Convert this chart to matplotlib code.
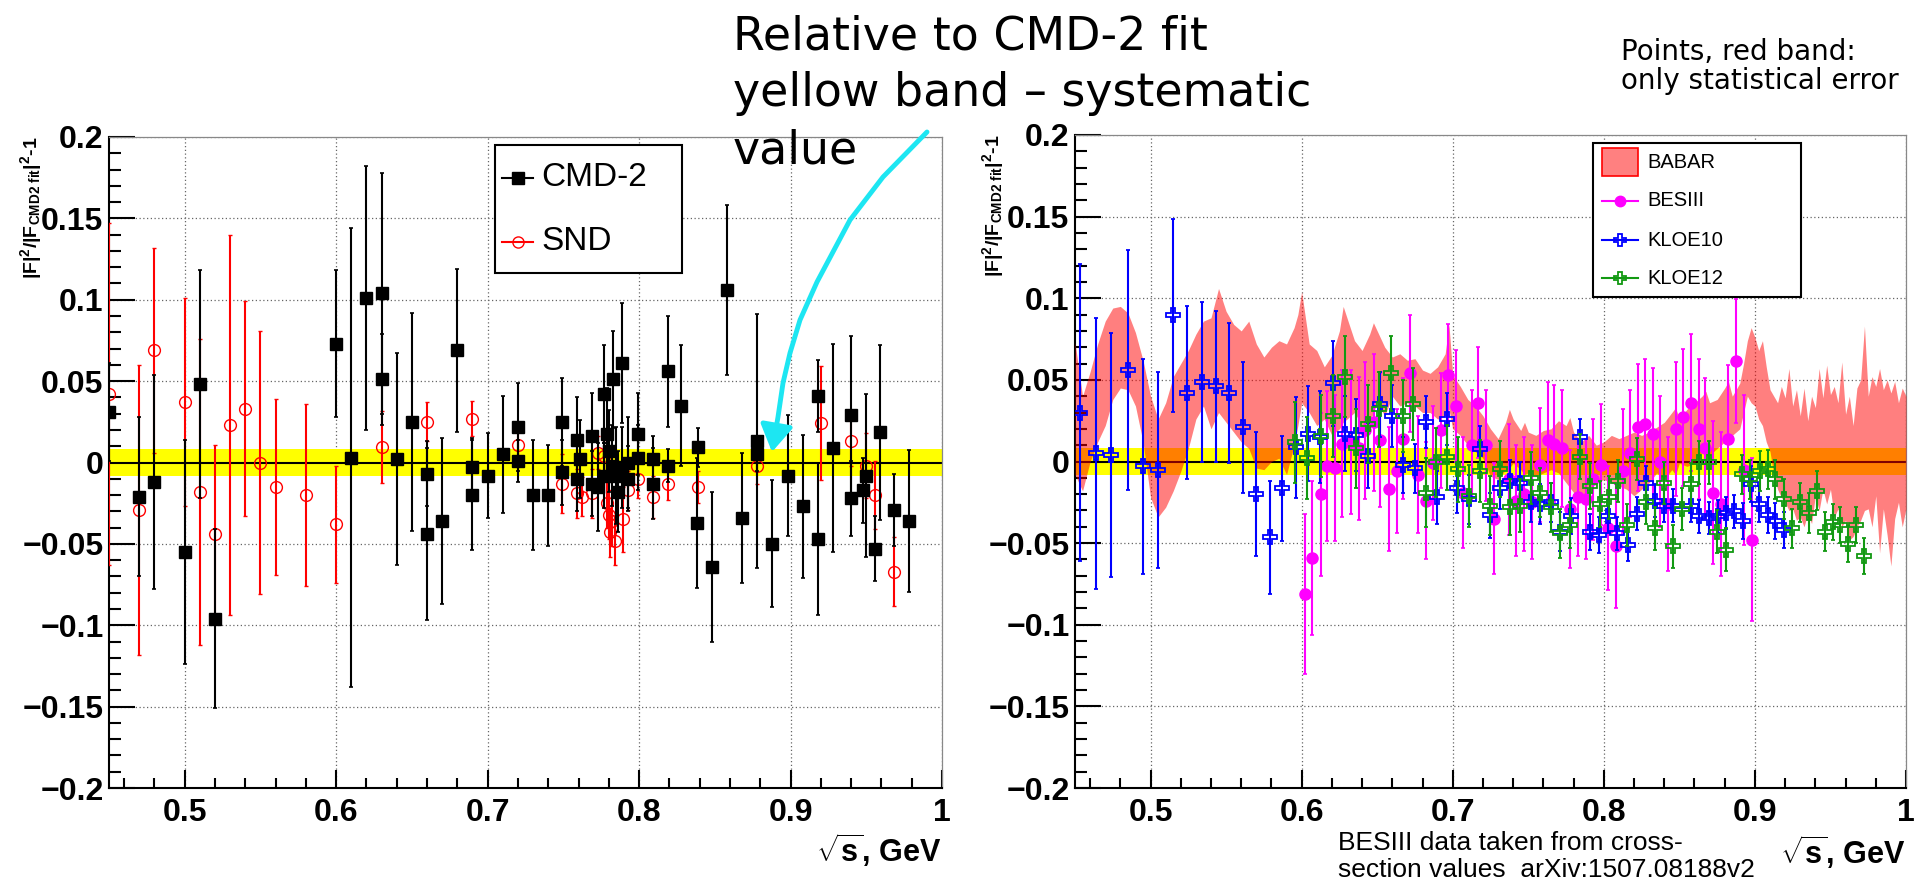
import matplotlib
matplotlib.use('Agg')
import matplotlib.pyplot as plt
from matplotlib.lines import Line2D
from matplotlib.patches import Rectangle, FancyArrowPatch
from matplotlib.path import Path
from matplotlib.ticker import MultipleLocator

plt.rcParams['font.family'] = ['Liberation Sans', 'DejaVu Sans']
plt.rcParams['mathtext.fontset'] = 'custom'
plt.rcParams['mathtext.rm'] = 'Liberation Sans'
plt.rcParams['mathtext.bf'] = 'Liberation Sans:bold'
plt.rcParams['mathtext.it'] = 'Liberation Sans:italic'

# ---------------- data: left panel ----------------
cmd2_x = [0.450, 0.470, 0.480, 0.500, 0.510, 0.520, 0.600, 0.610, 0.620, 0.630, 0.630,
          0.640, 0.650, 0.660, 0.660, 0.670, 0.680, 0.690, 0.690, 0.700, 0.710, 0.720,
          0.720, 0.730, 0.740, 0.749, 0.749, 0.759, 0.759, 0.761, 0.769, 0.769, 0.773,
          0.777, 0.777, 0.7785, 0.780, 0.782, 0.783, 0.785, 0.786, 0.789, 0.789, 0.793,
          0.793, 0.799, 0.799, 0.809, 0.809, 0.819, 0.819, 0.828, 0.839, 0.838, 0.848,
          0.858, 0.868, 0.878, 0.878, 0.888, 0.898, 0.908, 0.918, 0.918, 0.928, 0.940,
          0.940, 0.948, 0.950, 0.956, 0.959, 0.968, 0.978]
cmd2_y = [0.031, -0.021, -0.012, -0.055, 0.048, -0.096, 0.073, 0.003, 0.101, 0.104, 0.051,
          0.002, 0.025, -0.007, -0.044, -0.036, 0.069, -0.003, -0.020, -0.008, 0.005, 0.022,
          0.001, -0.020, -0.020, 0.025, -0.006, 0.014, -0.010, 0.002, 0.016, -0.013, -0.015,
          0.042, -0.008, 0.0175, 0.007, -0.002, 0.051, -0.008, -0.018, 0.061, -0.003, 0.000,
          -0.010, 0.0175, 0.003, 0.002, -0.013, 0.056, -0.002, 0.035, 0.0095, -0.037, -0.064,
          0.106, -0.034, 0.013, 0.005, -0.050, -0.008, -0.027, 0.041, -0.047, 0.009, 0.029,
          -0.022, -0.017, -0.008, -0.053, 0.0185, -0.029, -0.036]
cmd2_err = [0.030, 0.049, 0.066, 0.069, 0.070, 0.055, 0.045, 0.141, 0.081, 0.074, 0.028,
            0.065, 0.067, 0.020, 0.053, 0.051, 0.050, 0.018, 0.034, 0.026, 0.036, 0.027,
            0.013, 0.034, 0.031, 0.027, 0.020, 0.026, 0.020, 0.024, 0.027, 0.020, 0.027,
            0.030, 0.020, 0.028, 0.025, 0.025, 0.030, 0.030, 0.025, 0.037, 0.025, 0.028,
            0.020, 0.025, 0.020, 0.014, 0.022, 0.034, 0.010, 0.037, 0.012, 0.040, 0.046,
            0.052, 0.040, 0.078, 0.010, 0.039, 0.037, 0.044, 0.022, 0.047, 0.064, 0.049,
            0.023, 0.020, 0.050, 0.020, 0.054, 0.022, 0.0435]

snd_x = [0.450, 0.470, 0.480, 0.500, 0.510, 0.520, 0.530, 0.540, 0.550, 0.560, 0.580,
         0.600, 0.630, 0.660, 0.690, 0.720, 0.749, 0.759, 0.7625, 0.769, 0.773, 0.777,
         0.7785, 0.780, 0.781, 0.782, 0.784, 0.7895, 0.793, 0.799, 0.809, 0.819, 0.839,
         0.878, 0.920, 0.940, 0.950, 0.956, 0.968]
snd_y = [0.042, -0.029, 0.069, 0.037, -0.018, -0.044, 0.023, 0.033, 0.000, -0.015, -0.020,
         -0.038, 0.0095, 0.025, 0.027, 0.011, -0.013, -0.019, -0.021, -0.019, 0.006, 0.004,
         -0.025, -0.032, -0.043, -0.036, -0.048, -0.035, -0.017, -0.010, -0.021, -0.013, -0.015,
         -0.002, 0.024, 0.013, -0.002, -0.020, -0.067]
snd_err = [0.105, 0.089, 0.063, 0.064, 0.094, 0.055, 0.117, 0.066, 0.081, 0.054, 0.056,
           0.036, 0.022, 0.012, 0.011, 0.012, 0.018, 0.015, 0.012, 0.015, 0.010, 0.010,
           0.015, 0.015, 0.015, 0.015, 0.015, 0.020, 0.012, 0.012, 0.013, 0.010, 0.010,
           0.011, 0.035, 0.015, 0.020, 0.021, 0.021]

sys_halfwidth = 0.008   # yellow band: systematic error of the CMD-2 fit

# ---------------- data: right panel ----------------
babar_x = [0.450, 0.455, 0.460, 0.465, 0.470, 0.475, 0.480, 0.485, 0.490, 0.495,
           0.500, 0.505, 0.510, 0.515, 0.520, 0.525, 0.530, 0.535, 0.540, 0.545,
           0.550, 0.555, 0.560, 0.565, 0.570, 0.575, 0.580, 0.585, 0.590, 0.595,
           0.5975, 0.600, 0.605, 0.610, 0.615, 0.620, 0.625, 0.6275, 0.630, 0.635,
           0.640, 0.645, 0.6475, 0.650, 0.655, 0.660, 0.665, 0.670, 0.675, 0.680,
           0.685, 0.690, 0.695, 0.6975, 0.700, 0.705, 0.710, 0.715,
           0.720, 0.725, 0.730, 0.735, 0.7375, 0.740, 0.745, 0.7475, 0.750, 0.755,
           0.760, 0.765, 0.770, 0.775, 0.7775, 0.780, 0.785, 0.790, 0.795, 0.800,
           0.805, 0.810, 0.815, 0.820, 0.825, 0.830, 0.835, 0.840, 0.845, 0.8475,
           0.850, 0.855, 0.860, 0.865, 0.8675, 0.870, 0.875, 0.880, 0.8825, 0.885,
           0.890, 0.8925, 0.895, 0.8975, 0.900, 0.9025, 0.905, 0.9075, 0.910, 0.9125,
           0.915, 0.9175, 0.920, 0.9225, 0.925, 0.9275, 0.930, 0.9325, 0.935, 0.9375,
           0.940, 0.9425, 0.945, 0.9475, 0.950, 0.9525, 0.955, 0.9575, 0.960, 0.9625,
           0.965, 0.9675, 0.970, 0.9725, 0.975, 0.9775, 0.980, 0.9825, 0.985, 0.9875,
           0.990, 0.9925, 0.995, 0.9975, 1.000]
babar_hi = [0.073, 0.040, 0.055, 0.072, 0.086, 0.094, 0.095, 0.091, 0.079, 0.062,
            0.040, 0.026, 0.036, 0.052, 0.060, 0.068, 0.078, 0.086, 0.088, 0.106,
            0.092, 0.084, 0.080, 0.086, 0.072, 0.064, 0.070, 0.074, 0.072, 0.082,
            0.090, 0.104, 0.072, 0.068, 0.058, 0.065, 0.080, 0.095, 0.088, 0.074,
            0.068, 0.078, 0.085, 0.080, 0.070, 0.064, 0.066, 0.062, 0.063, 0.056,
            0.054, 0.058, 0.066, 0.084, 0.053, 0.046, 0.038, 0.034,
            0.028, 0.020, 0.014, 0.024, 0.032, 0.026, 0.019, 0.024, 0.018, 0.016,
            0.019, 0.020, 0.025, 0.022, 0.027, 0.018, 0.012, 0.016, 0.010, 0.012,
            0.016, 0.014, 0.016, 0.018, 0.016, 0.018, 0.021, 0.024, 0.030, 0.033,
            0.026, 0.032, 0.036, 0.040, 0.043, 0.036, 0.038, 0.045, 0.049, 0.040,
            0.048, 0.060, 0.074, 0.082, 0.076, 0.068, 0.074, 0.058, 0.044, 0.040,
            0.036, 0.046, 0.039, 0.057, 0.034, 0.044, 0.028, 0.045, 0.025, 0.040,
            0.033, 0.057, 0.039, 0.059, 0.041, 0.046, 0.036, 0.061, 0.029, 0.040,
            0.022, 0.045, 0.050, 0.083, 0.040, 0.052, 0.046, 0.057, 0.044, 0.050,
            0.042, 0.049, 0.036, 0.045, 0.040]
babar_lo = [-0.008, -0.018, 0.000, 0.012, 0.022, 0.038, 0.045, 0.044, 0.034, 0.012,
            -0.022, -0.034, -0.028, -0.018, -0.006, 0.008, 0.026, 0.034, 0.020, 0.030,
            0.024, 0.018, 0.012, 0.008, -0.004, -0.005, 0.000, 0.002, -0.008, 0.010,
            0.022, 0.036, 0.030, 0.022, 0.026, 0.016, 0.020, 0.024, 0.026, 0.030,
            0.022, 0.024, 0.030, 0.036, 0.028, 0.040, 0.034, 0.036, 0.034, 0.030,
            0.030, 0.026, 0.028, 0.032, 0.020, 0.016, 0.010, 0.006,
            0.002, -0.009, -0.011, -0.005, -0.004, -0.001, -0.005, -0.008, -0.007, -0.009,
            -0.007, -0.005, -0.007, -0.013, -0.016, -0.019, -0.023, -0.017, -0.013, -0.011,
            -0.013, -0.015, -0.017, -0.021, -0.017, -0.013, -0.007, -0.011, -0.005, -0.008,
            -0.001, -0.003, -0.001, 0.006, 0.004, 0.004, 0.008, 0.012, 0.010, 0.016,
            0.020, 0.030, 0.040, 0.036, 0.034, 0.026, 0.022, 0.012, 0.006, -0.008,
            -0.017, -0.022, -0.025, -0.030, -0.029, -0.036, -0.034, -0.040, -0.032, -0.038,
            -0.021, -0.030, -0.017, -0.026, -0.017, -0.034, -0.029, -0.040, -0.036, -0.048,
            -0.046, -0.040, -0.036, -0.030, -0.029, -0.040, -0.021, -0.056, -0.029, -0.045,
            -0.064, -0.035, -0.025, -0.040, -0.029]

bes_x = [0.602, 0.607, 0.613, 0.617, 0.622, 0.627, 0.633, 0.638, 0.642, 0.648, 0.652,
         0.6575, 0.663, 0.667, 0.672, 0.677, 0.6825, 0.687, 0.692, 0.697, 0.702, 0.707,
         0.7125, 0.717, 0.722, 0.7275, 0.737, 0.742, 0.7475, 0.7525, 0.7575, 0.763, 0.767,
         0.772, 0.7775, 0.783, 0.788, 0.793, 0.798, 0.803, 0.808, 0.813, 0.8175, 0.8225,
         0.8275, 0.8325, 0.8375, 0.8425, 0.848, 0.8525, 0.858, 0.863, 0.867, 0.8725,
         0.8775, 0.882, 0.8875, 0.8925, 0.898]
bes_y = [-0.081, -0.059, -0.020, -0.003, -0.004, 0.011, 0.012, 0.008, 0.019, 0.024, 0.013,
         -0.017, -0.006, 0.014, 0.054, -0.008, -0.024, -0.001, 0.019, 0.053, 0.034, -0.019,
         0.010, 0.036, 0.010, -0.035, -0.011, -0.024, -0.020, -0.025, -0.002, 0.013, 0.011,
         0.008, -0.029, -0.022, -0.023, -0.011, -0.002, -0.041, -0.052, -0.006, 0.005, 0.021,
         0.023, 0.017, 0.000, -0.026, 0.020, 0.027, 0.036, 0.020, 0.008, -0.019,
         -0.026, 0.014, 0.0615, -0.005, -0.048]
bes_err = [0.049, 0.047, 0.050, 0.046, 0.045, 0.045, 0.044, 0.044, 0.042, 0.042, 0.041,
           0.038, 0.038, 0.037, 0.036, 0.036, 0.036, 0.035, 0.035, 0.031, 0.034, 0.034,
           0.034, 0.034, 0.034, 0.034, 0.034, 0.034, 0.035, 0.035, 0.035, 0.036, 0.036,
           0.036, 0.036, 0.036, 0.037, 0.037, 0.037, 0.038, 0.038, 0.038, 0.039, 0.039,
           0.040, 0.040, 0.040, 0.041, 0.041, 0.042, 0.042, 0.043, 0.043, 0.044,
           0.044, 0.045, 0.038, 0.046, 0.050]

k10_x = [0.453, 0.464, 0.474, 0.485, 0.495, 0.505, 0.515, 0.524, 0.534, 0.543, 0.552,
         0.561, 0.570, 0.579, 0.587, 0.596, 0.604, 0.612, 0.621, 0.629, 0.636, 0.644,
         0.652, 0.660, 0.667, 0.675, 0.6825, 0.6895, 0.696, 0.703, 0.7105, 0.718, 0.7245,
         0.7315, 0.738, 0.7447, 0.752, 0.758, 0.765, 0.771, 0.778, 0.7844, 0.791, 0.797,
         0.803, 0.809, 0.816, 0.822, 0.828, 0.8336, 0.8396, 0.8458, 0.8577, 0.8632, 0.8694,
         0.8754, 0.881, 0.8864, 0.892, 0.8975, 0.903, 0.9085, 0.9136, 0.919]
k10_y = [0.030, 0.005, 0.004, 0.056, -0.003, -0.005, 0.0895, 0.042, 0.049, 0.046, 0.042,
         0.021, -0.020, -0.0465, -0.0165, 0.0086, 0.017, 0.015, 0.048, 0.017, 0.016, 0.0035,
         0.035, 0.028, -0.002, -0.004, 0.024, -0.022, 0.026, -0.0165, -0.023, 0.0076, -0.033,
         -0.016, -0.012, -0.013, -0.025, -0.026, -0.025, -0.043, -0.0335, 0.0148, -0.043, -0.045,
         -0.0335, -0.044, -0.051, -0.032, -0.013, -0.024, -0.027, -0.027, -0.027, -0.0335, -0.0346,
         -0.0335, -0.0315, -0.0305, -0.0366, -0.014, -0.026, -0.0325, -0.0366, -0.042]
k10_err = [0.091, 0.083, 0.075, 0.0735, 0.066, 0.060, 0.059, 0.053, 0.049, 0.046, 0.043,
           0.040, 0.038, 0.0345, 0.032, 0.031, 0.029, 0.028, 0.026, 0.023, 0.022, 0.020,
           0.020, 0.019, 0.017, 0.015, 0.016, 0.016, 0.016, 0.015, 0.015, 0.014, 0.014,
           0.013, 0.013, 0.013, 0.012, 0.012, 0.012, 0.012, 0.011, 0.011, 0.011, 0.011,
           0.010, 0.010, 0.010, 0.010, 0.010, 0.010, 0.010, 0.010, 0.010, 0.010, 0.010,
           0.010, 0.010, 0.010, 0.011, 0.011, 0.011, 0.011, 0.011, 0.011]

k12_x = [0.5957, 0.6038, 0.6127, 0.6206, 0.6284, 0.6361, 0.6442, 0.6515, 0.6593, 0.667,
         0.674, 0.6823, 0.6889, 0.6961, 0.7034, 0.7109, 0.7178, 0.7248, 0.7315, 0.7381,
         0.7447, 0.7518, 0.758, 0.765, 0.7712, 0.7778, 0.7844, 0.7911, 0.7972, 0.8032,
         0.8092, 0.8155, 0.822, 0.8279, 0.8339, 0.8396, 0.8458, 0.8517, 0.8577, 0.8632,
         0.8694, 0.875, 0.8808, 0.8914, 0.897, 0.9032, 0.9085, 0.9136, 0.9191, 0.9246,
         0.9301, 0.9356, 0.9412, 0.9462, 0.9515, 0.9566, 0.9617, 0.967, 0.9721]
k12_y = [0.0117, 0.002, 0.0158, 0.028, 0.052, 0.008, 0.023, 0.032, 0.054, 0.028,
         0.035, -0.019, -0.0006, 0.0025, -0.0047, -0.021, -0.0058, -0.027, -0.0047, -0.028,
         -0.027, -0.010, -0.019, -0.028, -0.044, -0.039, 0.003, -0.015, -0.026, -0.022,
         -0.012, -0.039, 0.0014, -0.025, -0.041, -0.013, -0.052, -0.029, -0.014, -0.0006,
         -0.0006, -0.043, -0.054, -0.0078, -0.011, -0.0058, -0.0047, -0.011, -0.023, -0.041,
         -0.025, -0.0315, -0.018, -0.043, -0.037, -0.039, -0.0506, -0.039, -0.058]
k12_err = [0.025, 0.025, 0.025, 0.025, 0.025, 0.024, 0.024, 0.023, 0.023, 0.022,
           0.022, 0.021, 0.021, 0.020, 0.020, 0.019, 0.019, 0.018, 0.017, 0.017,
           0.016, 0.016, 0.015, 0.015, 0.015, 0.014, 0.014, 0.014, 0.014, 0.013,
           0.013, 0.013, 0.013, 0.013, 0.013, 0.013, 0.013, 0.013, 0.013, 0.013,
           0.013, 0.013, 0.013, 0.012, 0.012, 0.012, 0.012, 0.012, 0.012, 0.012,
           0.012, 0.012, 0.012, 0.012, 0.011, 0.011, 0.011, 0.011, 0.011]

xtick_vals = [0.5, 0.6, 0.7, 0.8, 0.9, 1.0]
xtick_labels = ['0.5', '0.6', '0.7', '0.8', '0.9', '1']
ytick_vals = [-0.2, -0.15, -0.1, -0.05, 0.0, 0.05, 0.1, 0.15, 0.2]
ytick_labels = ['\u22120.2', '\u22120.15', '\u22120.1', '\u22120.05', '0', '0.05', '0.1', '0.15', '0.2']

# ---------------- figure ----------------
W, H = 1930, 883
fig = plt.figure(figsize=(W / 100, H / 100), dpi=100)


def fx(px):
    return px / W


def fy(py):
    return 1 - py / H


axL = fig.add_axes([fx(109), fy(788), fx(942) - fx(109), fy(137) - fy(788)])
axR = fig.add_axes([fx(1075), fy(788), fx(1906) - fx(1075), fy(135) - fy(788)])


def style(ax):
    ax.set_xlim(0.45, 1.0)
    ax.set_ylim(-0.2, 0.2)
    ax.set_xticks(xtick_vals)
    ax.set_xticklabels(xtick_labels)
    ax.set_yticks(ytick_vals)
    ax.set_yticklabels(ytick_labels)
    ax.xaxis.set_minor_locator(MultipleLocator(0.02))
    ax.yaxis.set_minor_locator(MultipleLocator(0.01))
    ax.tick_params(which='both', direction='in', top=False, right=False, width=1.5, color='k')
    ax.tick_params(axis='y', which='major', length=18.5, pad=4, labelsize=23)
    ax.tick_params(axis='y', which='minor', length=8.5)
    ax.tick_params(axis='x', which='major', length=13, pad=7, labelsize=23)
    ax.tick_params(axis='x', which='minor', length=7)
    for lab in ax.get_xticklabels() + ax.get_yticklabels():
        lab.set_fontweight('bold')
    ax.set_axisbelow(True)
    ax.grid(True, which='major', linestyle=(0, (1, 2)), color='#666666', linewidth=0.9)
    for s in ['left', 'bottom']:
        ax.spines[s].set_linewidth(1.5)
        ax.spines[s].set_color('k')
    for s in ['top', 'right']:
        ax.spines[s].set_linewidth(0.9)
        ax.spines[s].set_color('#888888')
    ax.axhspan(-sys_halfwidth, sys_halfwidth, color='#ffff00', lw=0, zorder=1)
    ax.axhline(0.0, color='k', lw=1.5, zorder=2)


style(axL)
style(axR)

eb = dict(linestyle='none', capsize=1.5, capthick=1.2, elinewidth=1.5)

# left panel points
axL.errorbar(snd_x, snd_y, yerr=snd_err, fmt='o', color='red', mfc='none', mec='red',
             ms=8.5, mew=1.0, zorder=4, **eb)
axL.errorbar(cmd2_x, cmd2_y, yerr=cmd2_err, fmt='s', color='black', ms=8, zorder=5, **eb)

# right panel
axR.fill_between(babar_x, babar_lo, babar_hi, color='#ff0000', alpha=0.5, lw=0, zorder=3)
axR.errorbar(bes_x, bes_y, yerr=bes_err, fmt='o', color='#ff00ff', ms=8, zorder=4, **eb)
axR.errorbar(k10_x, k10_y, yerr=k10_err, fmt='P', color='#0000ff', mfc='none', mec='#0000ff',
             ms=10, mew=1.3, zorder=5, **eb)
axR.errorbar(k12_x, k12_y, yerr=k12_err, fmt='P', color='#129912', mfc='none', mec='#129912',
             ms=10, mew=1.3, zorder=6, **eb)

# axis titles
ylab = r'$\mathbf{|F|^{2}/|F_{CMD2\ fit}|^{2}}$-1'
fig.text(fx(31), fy(137), ylab, rotation=90, ha='center', va='top', fontsize=14, fontweight='bold')
fig.text(fx(993), fy(135), ylab, rotation=90, ha='center', va='top', fontsize=14, fontweight='bold')
xlab = r'$\sqrt{\mathbf{s}}$, GeV'
fig.text(fx(941), fy(850), xlab, ha='right', va='center', fontsize=22, fontweight='bold')
fig.text(fx(1905), fy(852), xlab, ha='right', va='center', fontsize=22, fontweight='bold')

# ---------------- legends (drawn on the figure) ----------------
def frame(x0, y0, x1, y1):
    fig.add_artist(Rectangle((fx(x0), fy(y1)), fx(x1) - fx(x0), fy(y0) - fy(y1),
                             transform=fig.transFigure, facecolor='white', edgecolor='k',
                             lw=1.5, zorder=10))


def line_entry(x0, x1, y, color, marker, mfc, ms, mew=1.0):
    fig.add_artist(Line2D([fx(x0), fx(x1)], [fy(y), fy(y)], transform=fig.transFigure,
                          color=color, lw=1.5, zorder=11))
    fig.add_artist(Line2D([fx((x0 + x1) / 2)], [fy(y)], transform=fig.transFigure,
                          marker=marker, color=color, mfc=mfc, mec=color, ms=ms, mew=mew,
                          linestyle='none', zorder=12))


frame(495, 145, 682, 273)
line_entry(502, 533, 178, 'black', 's', 'black', 8)
line_entry(502, 533, 242, 'red', 'o', 'none', 8)
fig.text(fx(541), fy(178), 'CMD-2', fontsize=24, ha='left', va='center', zorder=12)
fig.text(fx(541), fy(242), 'SND', fontsize=24, ha='left', va='center', zorder=12)

frame(1593, 143, 1801, 297)
fig.add_artist(Rectangle((fx(1602), fy(176)), fx(1638) - fx(1602), fy(148) - fy(176),
                         transform=fig.transFigure, facecolor='#ff8080', edgecolor='#ff0000',
                         lw=1.2, zorder=11))
line_entry(1602, 1638, 201, '#ff00ff', 'o', '#ff00ff', 7.5)
line_entry(1602, 1638, 240, '#0000ff', 'P', 'none', 9, 1.3)
line_entry(1602, 1638, 278, '#129912', 'P', 'none', 9, 1.3)
for yy, t in [(162, 'BABAR'), (201, 'BESIII'), (240, 'KLOE10'), (278, 'KLOE12')]:
    fig.text(fx(1647), fy(yy), t, fontsize=14.5, ha='left', va='center', zorder=12)

# ---------------- annotations ----------------
note = dict(family=['DejaVu Sans'], color='black')
fig.text(fx(733), fy(50), 'Relative to CMD-2 fit', fontsize=33, ha='left', va='baseline', **note)
fig.text(fx(733), fy(106), 'yellow band \u2013 systematic', fontsize=33, ha='left', va='baseline', **note)
fig.text(fx(733), fy(163), 'value', fontsize=33, ha='left', va='baseline', **note)

fig.text(fx(1621), fy(60), 'Points, red band:', fontsize=20, ha='left', va='baseline', **note)
fig.text(fx(1621), fy(89), 'only statistical error', fontsize=20, ha='left', va='baseline', **note)

bot = dict(family=['Liberation Sans Narrow', 'Liberation Sans', 'DejaVu Sans'], color='black')
fig.text(fx(1338), fy(850), 'BESIII data taken from cross-', fontsize=19, ha='left', va='baseline', **bot)
fig.text(fx(1338), fy(877), 'section values  arXiv:1507.08188v2', fontsize=19, ha='left', va='baseline', **bot)

arrow_pts = [(927, 132), (883, 177), (850, 220), (817, 282), (800, 320), (790, 353),
             (783, 383), (778, 417), (772, 452)]
arrow_path = Path([(fx(a), fy(b)) for a, b in arrow_pts])
fig.add_artist(FancyArrowPatch(path=arrow_path, transform=fig.transFigure,
                               arrowstyle='-|>,head_length=0.9,head_width=0.55',
                               mutation_scale=18, color='#1de6f2', lw=3.5, zorder=13))

fig.savefig('out.png', dpi=100)
